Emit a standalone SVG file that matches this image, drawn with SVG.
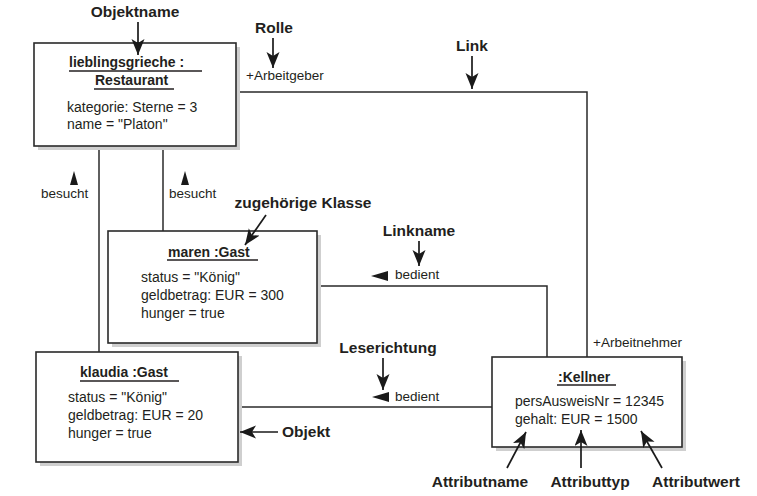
<svg xmlns="http://www.w3.org/2000/svg" width="757" height="496" viewBox="0 0 757 496">
<defs>
<marker id="ah" markerUnits="userSpaceOnUse" markerWidth="18" markerHeight="14" refX="16" refY="6.5" orient="auto">
<path d="M0,0 L16,6.5 L0,13 L4,6.5 Z" fill="#1a1a1a"/>
</marker>
</defs>
<style>
.box{fill:#fff;stroke:#2a2a2a;stroke-width:1.6}
.sh{fill:#cfcfcf}
.title{font-family:"Liberation Sans",Arial,sans-serif;font-size:14px;font-weight:bold;fill:#231f20}
.attr{font-family:"Liberation Sans",Arial,sans-serif;font-size:14px;fill:#231f20}
.lbl{font-family:"Liberation Sans",Arial,sans-serif;font-size:13.5px;fill:#231f20}
.ann{font-family:"Liberation Sans",Arial,sans-serif;font-size:15.5px;font-weight:bold;fill:#231f20}
.ul{stroke:#231f20;stroke-width:1.3}
.con{fill:none;stroke:#2a2a2a;stroke-width:1.5}
.arr{fill:none;stroke:#1a1a1a;stroke-width:1.7;marker-end:url(#ah)}
.tri{fill:#1a1a1a}
</style>
<rect width="757" height="496" fill="#fff"/>

<g id="connectors">
<path class="con" d="M236,92 H587 V357"/>
<path class="con" d="M317,286 H547 V357"/>
<path class="con" d="M238,407 H492"/>
<path class="con" d="M99,146 V352"/>
<path class="con" d="M163,146 V231"/>
<text class="lbl" x="246" y="80">+Arbeitgeber</text>
<text class="lbl" x="593" y="347">+Arbeitnehmer</text>
<text class="lbl" x="41" y="198">besucht</text>
<polygon class="tri" points="74,171 78,185 70,185"/>
<text class="lbl" x="169" y="198">besucht</text>
<polygon class="tri" points="185,171 189,185 181,185"/>
<text class="lbl" x="395" y="279">bedient</text>
<polygon class="tri" points="371,276 388,271 388,281"/>
<text class="lbl" x="395" y="401">bedient</text>
<polygon class="tri" points="372,397 389,392 389,402"/>
</g>

<g id="restaurant">
<rect class="sh" x="38" y="47" width="202" height="103"/>
<rect class="box" x="34" y="43" width="202" height="103"/>
<text class="title" x="69" y="67">lieblingsgrieche :</text>
<line class="ul" x1="69" y1="71" x2="202" y2="71"/>
<text class="title" x="95" y="85">Restaurant</text>
<line class="ul" x1="94" y1="89" x2="174" y2="89"/>
<text class="attr" x="67" y="112">kategorie: Sterne = 3</text>
<text class="attr" x="67" y="129">name = "Platon"</text>
</g>

<g id="maren">
<rect class="sh" x="112" y="235" width="209" height="112"/>
<rect class="box" x="108" y="231" width="209" height="112"/>
<text class="title" x="168" y="257">maren :Gast</text>
<line class="ul" x1="167" y1="260" x2="258" y2="260"/>
<text class="attr" x="141" y="282">status = "König"</text>
<text class="attr" x="141" y="300">geldbetrag: EUR = 300</text>
<text class="attr" x="141" y="318">hunger = true</text>
</g>

<g id="klaudia">
<rect class="sh" x="40" y="356" width="202" height="110"/>
<rect class="box" x="36" y="352" width="202" height="110"/>
<text class="title" x="80" y="377">klaudia :Gast</text>
<line class="ul" x1="80" y1="381" x2="179" y2="381"/>
<text class="attr" x="68" y="402">status = "König"</text>
<text class="attr" x="68" y="420">geldbetrag: EUR = 20</text>
<text class="attr" x="68" y="438">hunger = true</text>
</g>

<g id="kellner">
<rect class="sh" x="496" y="361" width="190" height="90"/>
<rect class="box" x="492" y="357" width="190" height="90"/>
<text class="title" x="558" y="382">:Kellner</text>
<line class="ul" x1="557" y1="385" x2="616" y2="385"/>
<text class="attr" x="515" y="406">persAusweisNr = 12345</text>
<text class="attr" x="515" y="424">gehalt: EUR = 1500</text>
</g>

<g id="annotations">
<text class="ann" x="135" y="17" text-anchor="middle">Objektname</text>
<line class="arr" x1="138" y1="22" x2="138" y2="55"/>
<text class="ann" x="274" y="33" text-anchor="middle">Rolle</text>
<line class="arr" x1="273" y1="38" x2="273" y2="68"/>
<text class="ann" x="472" y="51" text-anchor="middle">Link</text>
<line class="arr" x1="472" y1="56" x2="472" y2="89"/>
<text class="ann" x="303" y="208" text-anchor="middle">zugehörige Klasse</text>
<line class="arr" x1="266" y1="215" x2="245" y2="245"/>
<text class="ann" x="419" y="236" text-anchor="middle">Linkname</text>
<line class="arr" x1="419" y1="241" x2="419" y2="266"/>
<text class="ann" x="388" y="353" text-anchor="middle">Leserichtung</text>
<line class="arr" x1="383" y1="358" x2="383" y2="390"/>
<text class="ann" x="282" y="437">Objekt</text>
<line class="arr" x1="278" y1="432" x2="240" y2="432"/>
<text class="ann" x="480" y="487" text-anchor="middle">Attributname</text>
<line class="arr" x1="507" y1="468" x2="526" y2="432"/>
<text class="ann" x="590" y="487" text-anchor="middle">Attributtyp</text>
<line class="arr" x1="581" y1="468" x2="581" y2="430"/>
<text class="ann" x="696" y="487" text-anchor="middle">Attributwert</text>
<line class="arr" x1="662" y1="468" x2="641" y2="431"/>
</g>
</svg>
